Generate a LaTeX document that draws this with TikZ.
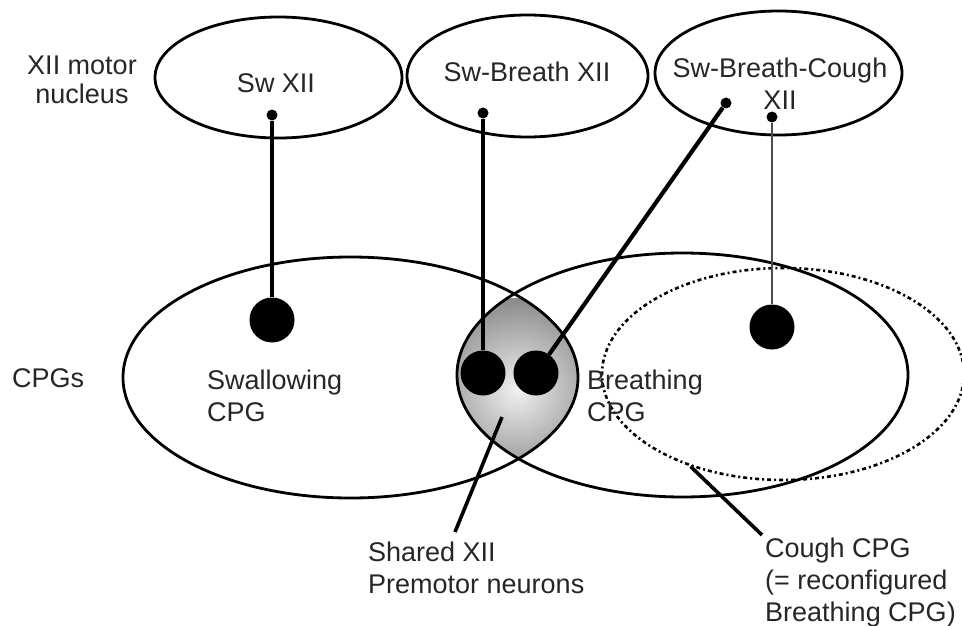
\documentclass[tikz,border=0pt]{standalone}
\usepackage{fontspec}
\setmainfont{Liberation Sans}
\usetikzlibrary{shapes.geometric,positioning}
\definecolor{inkgray}{HTML}{262626}
\definecolor{lenslight}{HTML}{F0F0F0}
\definecolor{lensdark}{HTML}{8A8A8A}

\begin{document}
\begin{tikzpicture}[
    x=1pt,y=-1pt,
    nucleus/.style={ellipse,draw=black,line width=2.8pt,inner sep=0pt},
    cpg/.style={ellipse,draw=black,line width=2.8pt,inner sep=0pt},
    coughcpg/.style={ellipse,draw=black,line width=2.6pt,inner sep=0pt,
                     dash pattern=on 4pt off 3pt on 2pt off 3pt},
    txt/.style={font=\fontsize{27}{32}\selectfont,text=inkgray,inner sep=0pt,align=left},
    dot/.style={circle,fill=black,inner sep=0pt,minimum size=11pt},
    soma/.style={circle,fill=black,inner sep=0pt,minimum size=45pt},
    axon/.style={line width=4.2pt},
    pointer/.style={line width=3.6pt}
  ]
    \useasboundingbox (0,0) rectangle (962,626);

    % shared premotor region (overlap of the two CPGs)
    \begin{scope}
      \clip (350.5,377.5) ellipse [x radius=227.5,y radius=120.5];
      \clip (682.5,375) ellipse [x radius=225.5,y radius=122];
      \shade[inner color=lenslight,outer color=lensdark] (517,390) circle (92);
    \end{scope}

    % XII motor nucleus
    \node[nucleus,minimum width=247pt,minimum height=121pt] (swxii) at (278.5,77.5) {};
    \node[nucleus,minimum width=241pt,minimum height=122pt] (sbxii) at (527.5,76) {};
    \node[nucleus,minimum width=247pt,minimum height=124pt] (sbcxii) at (778.5,73) {};

    \node[txt,align=center,font=\fontsize{27}{29}\selectfont] (motorlbl) at (82,79.7) {XII motor\\nucleus};
    \node[txt] (swxiitxt) at (276,83) {Sw XII};
    \node[txt] (sbxiitxt) at (527,72) {Sw-Breath XII};
    \node[txt,align=center] (sbcxiitxt) at (780,84) {Sw-Breath-Cough\\XII};

    % CPGs
    \node[txt,anchor=west] (cpglbl) at (12,378) {CPGs};
    \node[cpg,minimum width=455pt,minimum height=241pt] (swcpg) at (350.5,377.5) {};
    \node[cpg,minimum width=451pt,minimum height=244pt] (brcpg) at (682.5,375) {};
    \node[coughcpg,minimum width=362pt,minimum height=212pt] (cough) at (783,374) {};

    \node[txt,anchor=west] (swtxt) at (207,396) {Swallowing\\CPG};
    \node[txt,anchor=west] (brtxt) at (587,396) {Breathing\\CPG};
    \node[txt,anchor=west] (sharedtxt) at (368,568) {Shared XII\\Premotor neurons};
    \node[txt,anchor=west] (coughtxt) at (765,583) {Cough CPG\\(= reconfigured\\Breathing CPG)};

    % motoneurons and premotor neurons
    \node[dot] (d1) at (272,115) {};
    \node[dot] (d2) at (483,113) {};
    \node[dot] (d3) at (726,103) {};
    \node[dot] (d4) at (772,117) {};
    \node[soma] (s1) at (272,320) {};
    \node[soma] (s2) at (483,373) {};
    \node[soma] (s3) at (536,373) {};
    \node[soma] (s4) at (772,327) {};

    \draw[axon] (d1) -- (s1);
    \draw[axon] (d2) -- (s2);
    \draw[axon] (d3) -- (s3);
    \draw[axon,line width=2.4pt,black!70] (d4) -- (s4);

    % label pointers
    \coordinate (sharedtip) at (502,417);
    \coordinate (sharedfoot) at (455,532);
    \coordinate (coughfoot) at (762,535);
    \draw[pointer] (sharedtip) -- (sharedfoot);
    \draw[pointer] (cough.225) -- (coughfoot);
\end{tikzpicture}
\end{document}
